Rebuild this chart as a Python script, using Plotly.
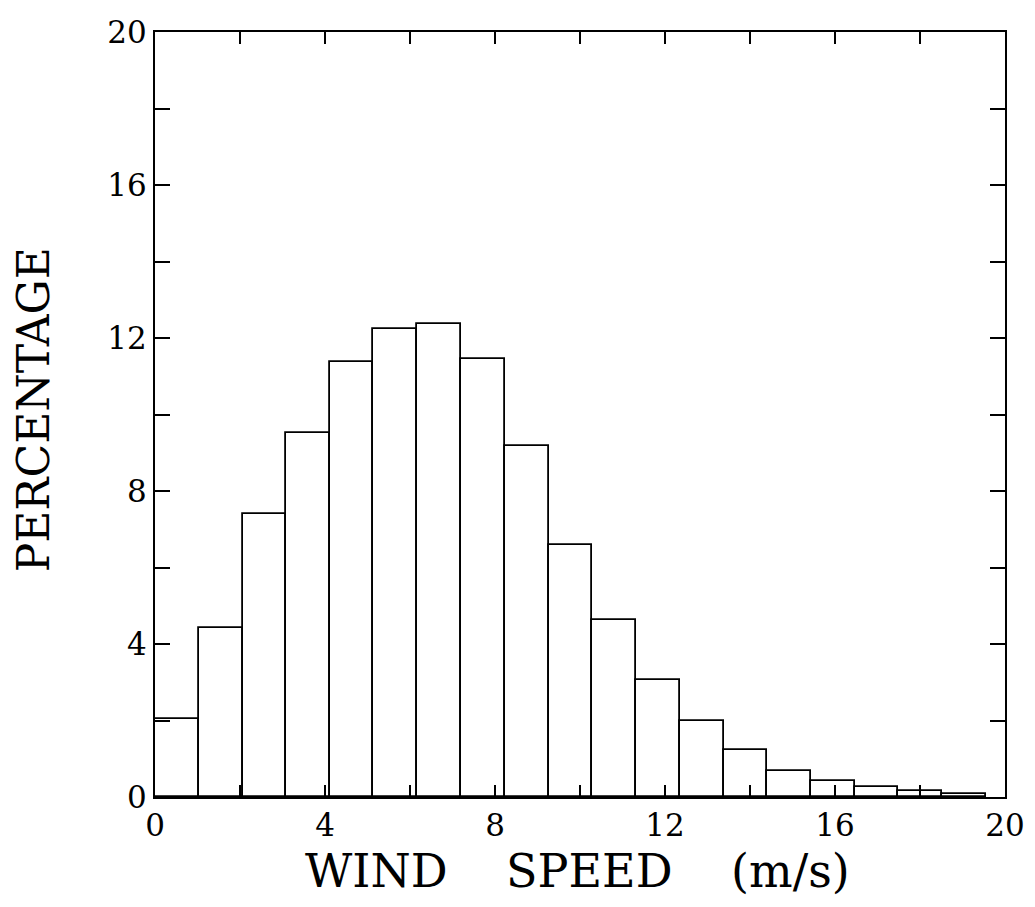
import plotly.graph_objects as go

# Bin left edges (m/s) and bin width (2 knots ~ 1.029 m/s)
bin_left = [0, 1.03, 2.06, 3.09, 4.12, 5.14, 6.17, 7.20, 8.23, 9.26,
            10.29, 11.32, 12.35, 13.38, 14.40, 15.43, 16.46, 17.49, 18.52]
bin_width = [1.03, 1.03, 1.03, 1.03, 1.02, 1.03, 1.03, 1.03, 1.03, 1.03,
             1.03, 1.03, 1.03, 1.02, 1.03, 1.03, 1.03, 1.03, 1.03]
percentage = [2.05, 4.42, 7.40, 9.51, 11.36, 12.24, 12.36, 11.44, 9.17, 6.59,
              4.62, 3.05, 2.00, 1.22, 0.67, 0.42, 0.27, 0.15, 0.09]

x_tickvals = [0, 2, 4, 6, 8, 10, 12, 14, 16, 18, 20]
x_ticktext = ["0", "", "4", "", "8", "", "12", "", "16", "", "20"]
y_tickvals = [0, 2, 4, 6, 8, 10, 12, 14, 16, 18, 20]
y_ticktext = ["0", "", "4", "", "8", "", "12", "", "16", "", "20"]

FONT = "DejaVu Serif"

fig = go.Figure()
fig.add_trace(go.Bar(
    x=bin_left, y=percentage, width=bin_width, offset=0,
    marker=dict(color="white", line=dict(color="black", width=1.8)),
    showlegend=False,
))

axis_common = dict(
    showline=True, linecolor="black", linewidth=2, mirror="ticks",
    ticks="inside", tickwidth=1.6, tickcolor="black",
    showgrid=False, zeroline=False, range=[0, 20], automargin=False,
    tickfont=dict(family=FONT, size=31, color="black"),
)

fig.update_xaxes(tickvals=x_tickvals, ticktext=x_ticktext, ticklen=12, **axis_common)
fig.update_yaxes(tickvals=y_tickvals, ticktext=y_ticktext, ticklen=15, **axis_common)

fig.update_layout(
    width=1035, height=907,
    margin=dict(l=147, r=38, t=24, b=118, autoexpand=False),
    paper_bgcolor="white", plot_bgcolor="white",
    bargap=0,
    annotations=[
        dict(text="WIND    SPEED    (m/s)", xref="paper", yref="paper",
             x=0.497, y=-0.097, xanchor="center", yanchor="middle",
             showarrow=False, font=dict(family=FONT, size=46, color="black")),
        dict(text="PERCENTAGE", xref="paper", yref="paper",
             x=-0.143, y=0.506, xanchor="center", yanchor="middle",
             textangle=-90, showarrow=False,
             font=dict(family=FONT, size=44, color="black")),
    ],
)

fig.write_html("out.html")
